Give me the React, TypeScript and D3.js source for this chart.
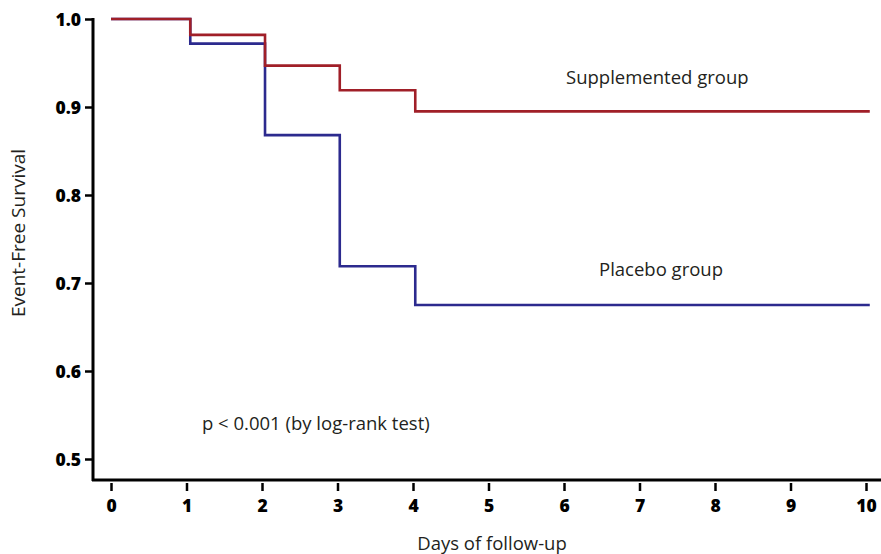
import React, { useEffect, useRef } from 'react';
import * as d3 from 'd3';

// step times (days) and survival after each step
const supplementedTimes = [0, 1.05, 2.04, 3.03, 4.03, 10.05];
const supplementedSurvival = [1.0, 0.982, 0.947, 0.919, 0.895, 0.895];
const placeboTimes = [0, 1.05, 2.04, 3.03, 4.03, 10.05];
const placeboSurvival = [1.0, 0.972, 0.868, 0.719, 0.675, 0.675];
const xTicks = [0, 1, 2, 3, 4, 5, 6, 7, 8, 9, 10];
const yTicks = [0.5, 0.6, 0.7, 0.8, 0.9, 1.0];

const App = () => {
  const ref = useRef<SVGSVGElement>(null);

  useEffect(() => {
    const svg = d3.select(ref.current);
    svg.selectAll('*').remove();

    const font = "'Open Sans', sans-serif";
    const x = d3.scaleLinear().domain([0, 10]).range([111, 866]);
    const y = d3.scaleLinear().domain([0.5, 1.0]).range([459, 19]);

    // y axis
    const yAxis = d3.axisLeft(y).tickValues(yTicks).tickFormat(d3.format('.1f')).tickSize(8).tickSizeOuter(0);
    const gy = svg.append('g').attr('transform', 'translate(93,0)').call(yAxis);
    gy.select('.domain').remove();
    gy.append('line').attr('x1', 0).attr('x2', 0).attr('y1', y(1.0) - 1).attr('y2', 481)
      .attr('stroke', '#000').attr('stroke-width', 3);
    gy.selectAll('.tick line').attr('stroke', '#000').attr('stroke-width', 2.5);
    gy.selectAll('.tick text').attr('font-family', font).attr('font-weight', 800)
      .attr('font-size', 17.5).attr('fill', '#000').attr('x', -12).attr('dy', '0.35em');

    // x axis
    const xAxis = d3.axisBottom(x).tickValues(xTicks).tickSize(8).tickSizeOuter(0);
    const gx = svg.append('g').attr('transform', 'translate(0,483)').call(xAxis);
    gx.select('.domain').remove();
    svg.append('line').attr('x1', 92).attr('x2', 881).attr('y1', 480).attr('y2', 480)
      .attr('stroke', '#000').attr('stroke-width', 3);
    gx.selectAll('.tick line').attr('stroke', '#000').attr('stroke-width', 2.5);
    gx.selectAll('.tick text').attr('font-family', font).attr('font-weight', 800)
      .attr('font-size', 17.5).attr('fill', '#000').attr('y', 17);

    const line = d3.line<[number, number]>()
      .x(d => x(d[0])).y(d => y(d[1])).curve(d3.curveStepAfter);

    const series = [
      { times: placeboTimes, surv: placeboSurvival, color: '#2c2a8e' },
      { times: supplementedTimes, surv: supplementedSurvival, color: '#a01f28' },
    ];
    series.forEach(s => {
      const pts = s.times.map((t, i) => [t, s.surv[i]] as [number, number]);
      svg.append('path').attr('d', line(pts)).attr('fill', 'none')
        .attr('stroke', s.color).attr('stroke-width', 2.6);
    });

    const label = (txt: string, tx: number, ty: number, anchor = 'start', size = 18.5) =>
      svg.append('text').attr('x', tx).attr('y', ty).attr('text-anchor', anchor)
        .attr('font-family', font).attr('font-size', size).attr('fill', '#231f20').text(txt);

    label('Supplemented group', 566, 84);
    label('Placebo group', 599, 276);
    label('p < 0.001 (by log-rank test)', 202, 430);
    label('Days of follow-up', 492, 550, 'middle');
    label('Event-Free Survival', 0, 0, 'middle', 19).attr('transform', 'translate(25,233) rotate(-90)');
  }, []);

  return <svg ref={ref} width={881} height={554} style={{ display: 'block', position: 'absolute', left: 0, top: 0, background: '#fff' }} />;
};

export default App;
